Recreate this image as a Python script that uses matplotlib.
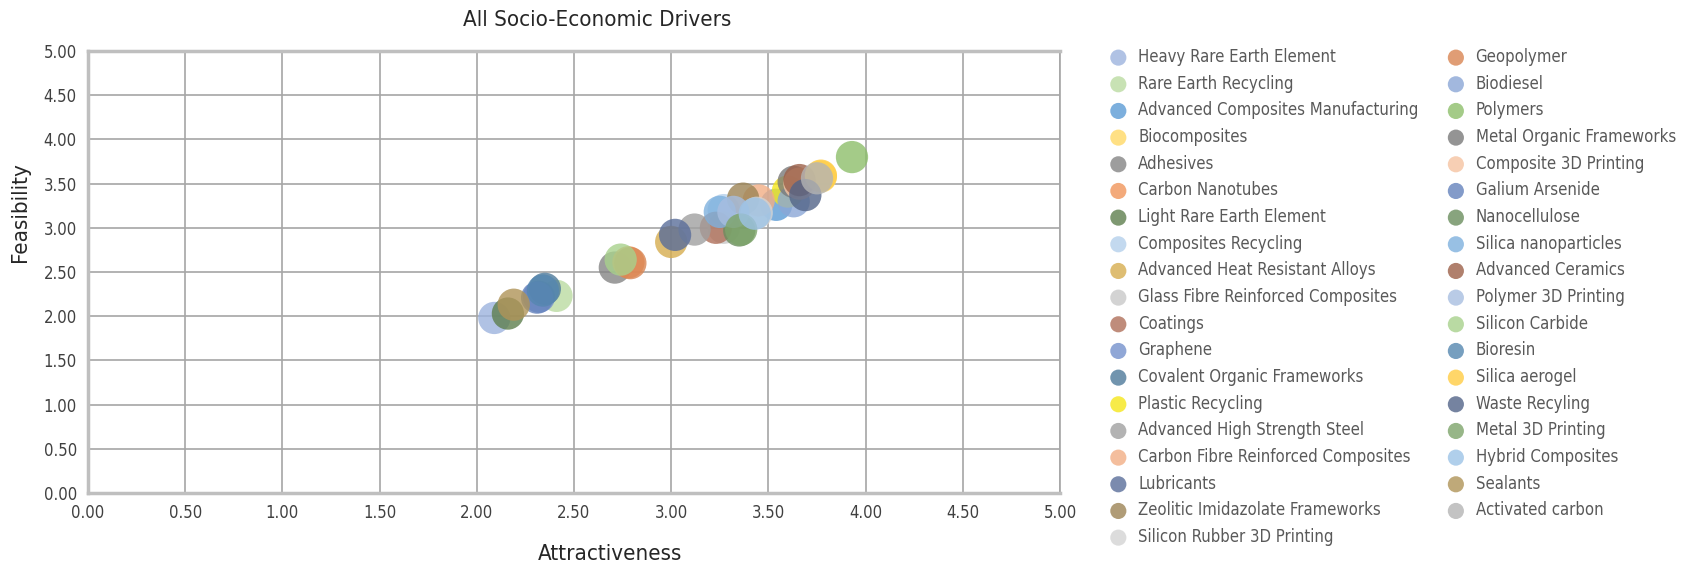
import matplotlib
matplotlib.use("Agg")
import matplotlib.pyplot as plt

plt.rcParams['font.family'] = ['DejaVu Sans']
plt.rcParams['font.stretch'] = 'condensed'

# Data
names = [
    "Heavy Rare Earth Element", "Rare Earth Recycling", "Advanced Composites Manufacturing",
    "Biocomposites", "Adhesives", "Carbon Nanotubes", "Light Rare Earth Element",
    "Composites Recycling", "Advanced Heat Resistant Alloys", "Glass Fibre Reinforced Composites",
    "Coatings", "Graphene", "Covalent Organic Frameworks", "Plastic Recycling",
    "Advanced High Strength Steel", "Carbon Fibre Reinforced Composites", "Lubricants",
    "Zeolitic Imidazolate Frameworks", "Silicon Rubber 3D Printing",
    "Geopolymer", "Biodiesel", "Polymers", "Metal Organic Frameworks", "Composite 3D Printing",
    "Galium Arsenide", "Nanocellulose", "Silica nanoparticles", "Advanced Ceramics",
    "Polymer 3D Printing", "Silicon Carbide", "Bioresin", "Silica aerogel", "Waste Recyling",
    "Metal 3D Printing", "Hybrid Composites", "Sealants", "Activated carbon",
]
attractiveness = [
    2.09, 2.41, 3.54, 3.77, 2.71, 2.78, 2.16, 3.27, 3.00, 3.27,
    3.23, 2.32, 2.35, 3.60, 3.12, 3.45, 3.02, 3.37, 3.44,
    2.79, 3.63, 3.93, 3.63, 3.66, 2.31, 3.35, 3.25, 3.66, 3.32,
    2.74, 2.34, 3.77, 3.69, 3.36, 3.43, 2.19, 3.75,
]
feasibility = [
    1.98, 2.23, 3.26, 3.58, 2.55, 2.61, 2.03, 3.20, 2.84, 3.00,
    3.00, 2.22, 2.31, 3.41, 2.98, 3.31, 2.92, 3.33, 3.17,
    2.60, 3.30, 3.80, 3.52, 3.50, 2.21, 2.97, 3.18, 3.54, 3.18,
    2.64, 2.29, 3.59, 3.37, 2.98, 3.16, 2.13, 3.56,
]
colors = [
    "#9DB3DE", "#BBDBA2", "#5B9BD5", "#FFD966", "#858585", "#F0955A", "#5E7F4E",
    "#B4D0EB", "#D6AD4F", "#C9C9C9", "#B0705A", "#7591CC", "#4E7A9A", "#F5E61A",
    "#A0A0A0", "#F2AE85", "#5A6E9A", "#9C8455", "#D4D4D4",
    "#D98552", "#8BA7D6", "#8DBF6B", "#7A7A7A", "#F5C3A2", "#6482BC", "#6B8E5E",
    "#7EB1DE", "#9C6049", "#A8BEE0", "#A8D18C", "#5587B0", "#FFCC44", "#526488",
    "#7DA46A", "#9DC3E6", "#B09458", "#B4B4B4",
]
ticks = [0, 0.5, 1, 1.5, 2, 2.5, 3, 3.5, 4, 4.5, 5]

fig = plt.figure(figsize=(16.86, 5.66), dpi=100)
ax = fig.add_axes([88 / 1686, 1 - 493 / 566, (1060 - 88) / 1686, (493 - 51) / 566])

for n, xv, yv, c in zip(names, attractiveness, feasibility, colors):
    ax.scatter(xv, yv, s=540, color=c, alpha=0.8, edgecolors='none', label=n, zorder=3)

ax.set_xlim(0, 5)
ax.set_ylim(0, 5)
ax.set_xticks(ticks)
ax.set_yticks(ticks)
ax.set_xticklabels([f"{t:.2f}" for t in ticks])
ax.set_yticklabels([f"{t:.2f}" for t in ticks])
ax.tick_params(length=0, labelsize=12, labelcolor='#404040', pad=8)
ax.grid(True, color='#A6A6A6', linewidth=1.2, zorder=0)
ax.set_axisbelow(True)
for side in ['left', 'bottom', 'top']:
    ax.spines[side].set_color('#BFBFBF')
    ax.spines[side].set_linewidth(2.5)
ax.spines['right'].set_color('#A6A6A6')
ax.spines['right'].set_linewidth(1.2)

fig.text(597 / 1686, 1 - 20 / 566, "All Socio-Economic Drivers", ha='center', va='center',
         fontsize=16, color='#262626')
fig.text(610 / 1686, 1 - 554 / 566, "Attractiveness", ha='center', va='center',
         fontsize=16, color='#262626')
fig.text(20 / 1686, 1 - 212 / 566, "Feasibility", ha='center', va='center',
         fontsize=16, color='#262626', rotation=90)

leg = fig.legend(loc='upper left', bbox_to_anchor=(1110 / 1686, 1 - 48 / 566), ncol=2,
                 frameon=False, fontsize=12, markerscale=0.5, handletextpad=0.68,
                 labelspacing=0.52, columnspacing=1.75, borderaxespad=0, borderpad=0,
                 handlelength=1.0)
for t in leg.get_texts():
    t.set_color('#595959')

fig.savefig("out.png", dpi=100)
